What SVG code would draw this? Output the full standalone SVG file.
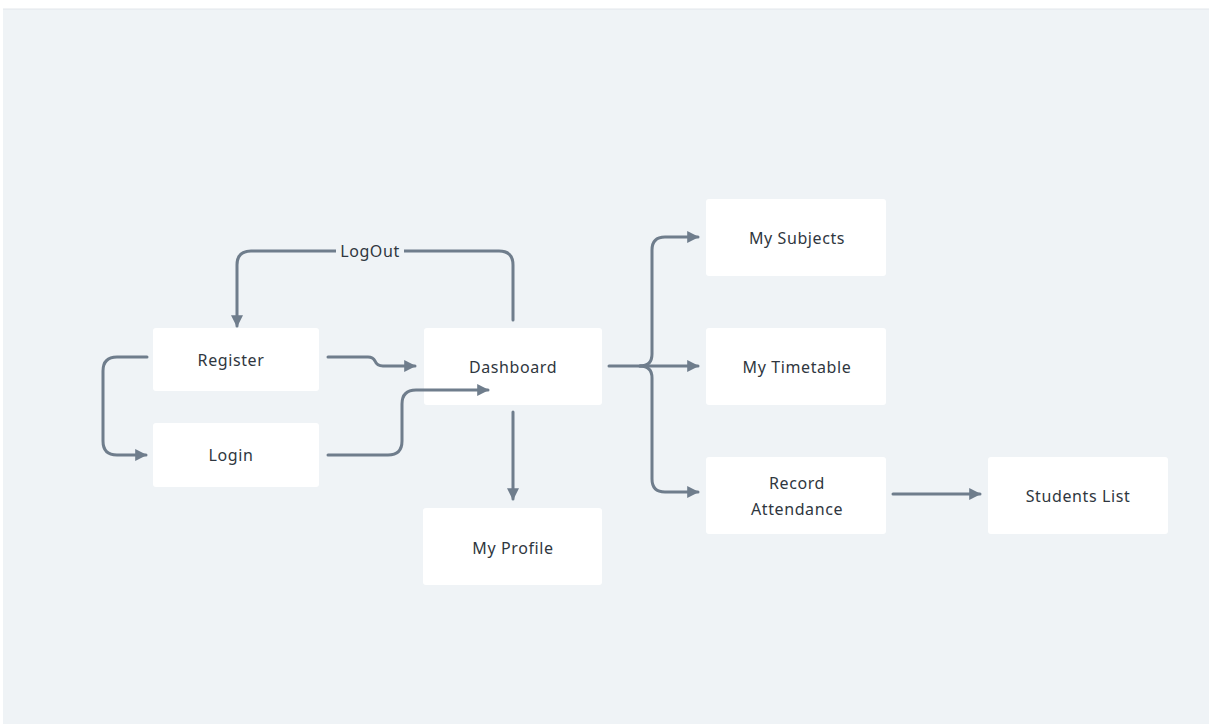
<svg xmlns="http://www.w3.org/2000/svg" width="1209" height="724" viewBox="0 0 1209 724">
<style>
.node rect{fill:#ffffff;}
.node text{font-family:"Noto Sans","DejaVu Sans",sans-serif;font-size:16px;letter-spacing:0.6px;fill:#2f3740;text-anchor:middle;dominant-baseline:central;}
.conn path{fill:none;stroke:#6f7d8c;stroke-width:3;stroke-linecap:round;stroke-linejoin:round;}
.lbl{font-family:"Noto Sans","DejaVu Sans",sans-serif;font-size:16px;letter-spacing:0.6px;fill:#2f3740;text-anchor:middle;dominant-baseline:central;}
</style>
<defs>
<marker id="arr" viewBox="0 0 10 10" refX="9" refY="5" markerWidth="4" markerHeight="4" orient="auto" markerUnits="strokeWidth">
<path d="M0,0 L10,5 L0,10 z" fill="#6f7d8c"/>
</marker>
</defs>
<rect x="0" y="0" width="1209" height="724" fill="#ffffff"/>
<rect x="3" y="9" width="1206" height="715" fill="#eff3f6"/>
<line x1="3" y1="9" x2="1209" y2="9" stroke="#e2e6ea" stroke-width="1"/>

<g id="register" class="node"><rect x="153" y="328" width="166" height="63" rx="3"/><text x="231" y="360">Register</text></g>
<g id="login" class="node"><rect x="153" y="423" width="166" height="64" rx="3"/><text x="231" y="455">Login</text></g>
<g id="dashboard" class="node"><rect x="424" y="328" width="178" height="77" rx="3"/><text x="513" y="367">Dashboard</text></g>
<g id="myprofile" class="node"><rect x="423" y="508" width="179" height="77" rx="3"/><text x="513" y="548">My Profile</text></g>
<g id="mysubjects" class="node"><rect x="706" y="199" width="180" height="77" rx="3"/><text x="797" y="238">My Subjects</text></g>
<g id="mytimetable" class="node"><rect x="706" y="328" width="180" height="77" rx="3"/><text x="797" y="367">My Timetable</text></g>
<g id="recordattendance" class="node"><rect x="706" y="457" width="180" height="77" rx="3"/><text x="797" y="483">Record</text><text x="797" y="509">Attendance</text></g>
<g id="studentslist" class="node"><rect x="988" y="457" width="180" height="77" rx="3"/><text x="1078" y="496">Students List</text></g>

<g id="connectors" class="conn">
<path d="M513,320 V265 Q513,251 499,251 H251 Q237,251 237,265 V326" marker-end="url(#arr)"/>
<path d="M328,357 H368 Q373,357 375,361 Q377,366 383,366 H415" marker-end="url(#arr)"/>
<path d="M147,357 H117 Q103,357 103,371 V441 Q103,455 117,455 H146" marker-end="url(#arr)"/>
<path d="M328,455 H388 Q402,455 402,441 V404 Q402,390 416,390 H488" marker-end="url(#arr)"/>
<path d="M513,412 V499" marker-end="url(#arr)"/>
<path d="M609,366 H640 Q652,366 652,354 V250 Q652,237 665,237 H698" marker-end="url(#arr)"/>
<path d="M640,366 H698" marker-end="url(#arr)"/>
<path d="M640,366 Q652,366 652,378 V479 Q652,492 665,492 H698" marker-end="url(#arr)"/>
<path d="M893,494 H980" marker-end="url(#arr)"/>
<rect x="336" y="241" width="68" height="20" fill="#eff3f6" stroke="none"/>
<text class="lbl" x="370" y="251">LogOut</text>
</g>
</svg>
